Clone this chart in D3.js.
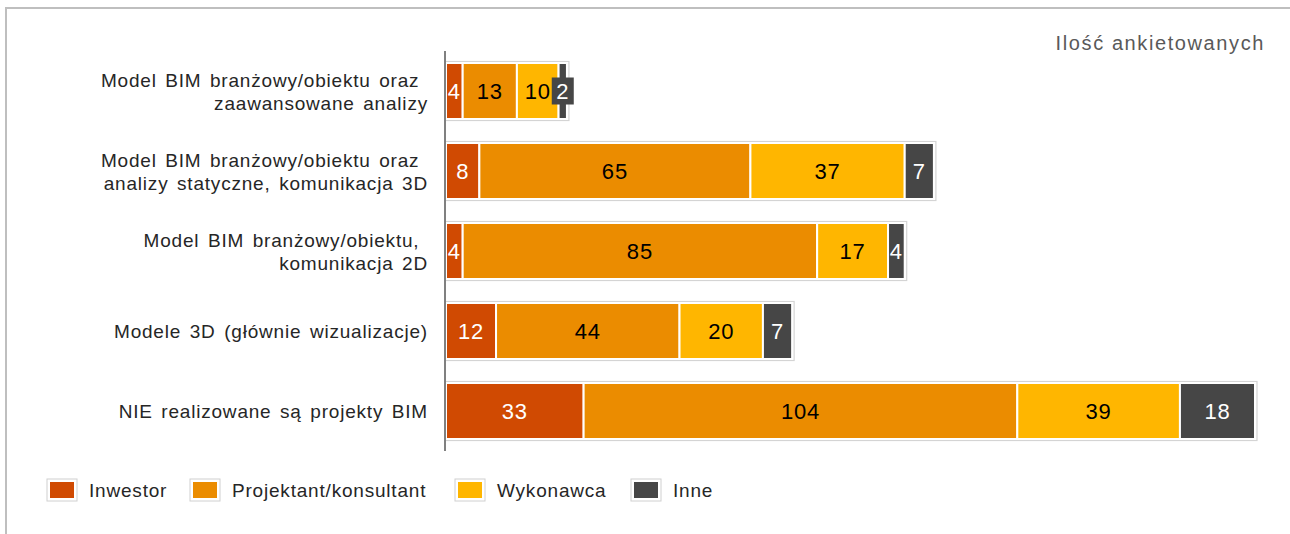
<!DOCTYPE html>
<html>
<head>
<meta charset="utf-8">
<script src="https://cdn.jsdelivr.net/npm/d3@7"></script>
<style>
  html, body { margin: 0; padding: 0; background: #fff; }
  svg { display: block; }
  text { font-family: "Liberation Sans", Arial, sans-serif; }
</style>
</head>
<body>
<svg id="chart" width="1290" height="534"></svg>
<script>
// Respondent groups per BIM usage level
const categories = [
  ["Model BIM branżowy/obiektu oraz ", "zaawansowane analizy"],
  ["Model BIM branżowy/obiektu oraz ", "analizy statyczne, komunikacja 3D"],
  ["Model BIM branżowy/obiektu, ", "komunikacja 2D"],
  ["Modele 3D (głównie wizualizacje)"],
  ["NIE realizowane są projekty BIM"]
];
const seriesNames = ["Inwestor", "Projektant/konsultant", "Wykonawca", "Inne"];
const inwestor   = [4, 8, 4, 12, 33];
const projektant = [13, 65, 85, 44, 104];
const wykonawca  = [10, 37, 17, 20, 39];
const inne       = [2, 7, 4, 7, 18];
const seriesValues = [inwestor, projektant, wykonawca, inne];
const colors = ["#D04A02", "#EB8C00", "#FFB600", "#464646"];
const labelColors = ["#ffffff", "#000000", "#000000", "#ffffff"];
const unitTitle = "Ilość ankietowanych";

const svg = d3.select("#chart");

// outer frame
svg.append("rect")
  .attr("x", 6).attr("y", 8).attr("width", 1400).attr("height", 700)
  .attr("fill", "none").attr("stroke", "#bfbfbf").attr("stroke-width", 2);

const rows = categories.map((c, i) => {
  const row = { key: i };
  seriesNames.forEach((s, j) => row[s] = seriesValues[j][i]);
  return row;
});
const stacked = d3.stack().keys(seriesNames)(rows);
const totals = rows.map(r => d3.sum(seriesNames, s => r[s]));

const x = d3.scaleLinear().domain([0, d3.max(totals)]).range([446, 1255]);
const y = d3.scaleBand().domain(d3.range(categories.length))
  .range([51, 451]).paddingInner(0.3).paddingOuter(0.15);

// light outline around each full bar
svg.append("g").selectAll("rect")
  .data(totals)
  .join("rect")
  .attr("x", x(0) - 1)
  .attr("y", (d, i) => y(i) - 1.5)
  .attr("width", d => x(d) - x(0) + 3)
  .attr("height", y.bandwidth() + 3)
  .attr("fill", "#fff")
  .attr("stroke", "#d4d4d4")
  .attr("stroke-width", 1.2);

// segments
const layers = svg.append("g").selectAll("g")
  .data(stacked)
  .join("g")
  .attr("fill", (d, i) => colors[i]);

layers.selectAll("rect")
  .data(d => d)
  .join("rect")
  .attr("x", d => x(d[0]))
  .attr("y", (d, i) => y(i))
  .attr("width", d => x(d[1]) - x(d[0]))
  .attr("height", y.bandwidth())
  .attr("stroke", "#fff")
  .attr("stroke-width", 2);

// value labels
stacked.forEach((layer, j) => {
  const g = svg.append("g");
  layer.forEach((d, i) => {
    const cx = (x(d[0]) + x(d[1])) / 2;
    const cy = y(i) + y.bandwidth() / 2;
    const w = x(d[1]) - x(d[0]);
    if (w < 12) {
      g.append("rect")
        .attr("x", cx - 11).attr("y", cy - 13.5)
        .attr("width", 22).attr("height", 27)
        .attr("fill", colors[j]);
    }
    g.append("text")
      .attr("x", cx).attr("y", cy)
      .attr("dy", "0.36em")
      .attr("text-anchor", "middle")
      .attr("font-size", 22)
      .attr("letter-spacing", "0.8px")
      .attr("fill", labelColors[j])
      .text(d[1] - d[0]);
  });
});

// vertical axis line
svg.append("line")
  .attr("x1", x(0) - 1).attr("x2", x(0) - 1)
  .attr("y1", y.range()[0]).attr("y2", y.range()[1])
  .attr("stroke", "#808080").attr("stroke-width", 2);

// category labels
const catG = svg.append("g");
categories.forEach((lines, i) => {
  const cy = y(i) + y.bandwidth() / 2;
  const lh = 23;
  const t = catG.append("text")
    .attr("text-anchor", "end")
    .attr("font-size", 19)
    .attr("letter-spacing", "0.8px")
    .attr("word-spacing", "2.5px")
    .attr("fill", "#262626")
    .style("white-space", "pre");
  lines.forEach((ln, k) => {
    t.append("tspan")
      .attr("x", 428)
      .attr("y", cy + 0.5 + (k - (lines.length - 1) / 2) * lh)
      .attr("dy", "0.36em")
      .text(ln);
  });
});

// unit title
svg.append("text")
  .attr("x", 1265).attr("y", 43)
  .attr("dy", "0.36em")
  .attr("text-anchor", "end")
  .attr("font-family", "'Open Sans', sans-serif")
  .attr("font-size", 20)
  .attr("letter-spacing", "1.6px")
  .attr("fill", "#595959")
  .text(unitTitle);

// legend
const legendX = [47, 190, 455, 631];
const leg = svg.append("g");
seriesNames.forEach((s, j) => {
  leg.append("rect")
    .attr("x", legendX[j]).attr("y", 479)
    .attr("width", 30).attr("height", 22)
    .attr("fill", "#fff").attr("stroke", "#d0d0d0").attr("stroke-width", 1);
  leg.append("rect")
    .attr("x", legendX[j] + 3).attr("y", 482)
    .attr("width", 24).attr("height", 16)
    .attr("fill", colors[j]);
  leg.append("text")
    .attr("x", legendX[j] + 42).attr("y", 490)
    .attr("dy", "0.36em")
    .attr("font-size", 19)
    .attr("letter-spacing", "0.8px")
    .attr("fill", "#262626")
    .text(s);
});
</script>
</body>
</html>
